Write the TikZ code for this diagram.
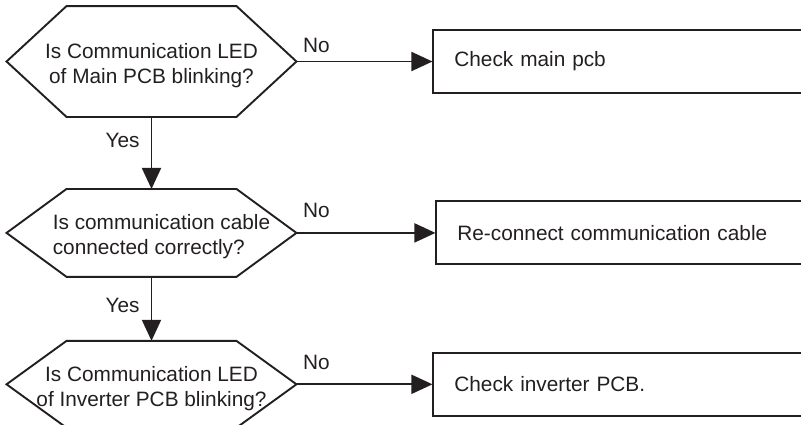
\documentclass[tikz,border=0pt]{standalone}
\usepackage{fontspec}
\setmainfont{Liberation Sans}
\usetikzlibrary{positioning,arrows.meta}
\definecolor{Ink}{RGB}{35,31,32}

\begin{document}
\begin{tikzpicture}[color=Ink,line width=.95pt,
 font=\fontsize{10.4}{12.5}\selectfont,
 hexa/.style={inner sep=0pt,minimum width=144pt},
 qtext/.style={inner sep=0pt,align=center,yshift=-2pt},
 box/.style={draw,inner xsep=10.5pt,inner ysep=0pt,minimum height=31.5pt,text width=170pt,align=left},
 a/.style={-{Triangle[length=10.5pt,width=9.5pt]}},
 lab/.style={inner sep=0pt}]
\useasboundingbox (0,0) rectangle (400.5pt,-212pt);
\clip (0,0) rectangle (400.5pt,-212pt);
% question frames
\node[hexa,minimum height=54.5pt] (q1) at (75.75pt,-30.75pt) {};
\node[hexa,minimum height=43pt,below=36pt of q1] (q2) {};
\node[hexa,minimum height=42.5pt,below=32pt of q2] (q3) {};
\foreach \q in {q1,q2,q3}
 \draw (\q.west) -- ([xshift=30pt]\q.north west) -- ([xshift=-30pt]\q.north east) -- (\q.east)
  -- ([xshift=-30pt]\q.south east) -- ([xshift=30pt]\q.south west) -- cycle;
\node[qtext] (t1) at (q1) {Is Communication LED\\of Main PCB blinking?};
\node[qtext,align=left,xshift=5pt] (t2) at (q2) {Is communication cable\\connected correctly?};
\node[qtext] (t3) at (q3) {Is Communication LED\\of Inverter PCB blinking?};
% actions
\node[box,right=68pt of q1] (a1) {Check main pcb};
\node[box,right=69.5pt of q2] (a2) {Re-connect communication cable};
\node[box,right=68pt of q3] (a3) {Check inverter PCB.};
\draw[a] (q1.east) -- (a1.west) node[lab,pos=0,anchor=south west,xshift=2.8pt,yshift=4pt] {No};
\draw[a] (q2.east) -- (a2.west) node[lab,pos=0,anchor=south west,xshift=2.8pt,yshift=7pt] {No};
\draw[a] (q3.east) -- (a3.west) node[lab,pos=0,anchor=south west,xshift=2.8pt,yshift=7pt] {No};
\draw[a] (q1.south) -- (q2.north) node[lab,pos=0,anchor=east,xshift=-5.5pt,yshift=-11.5pt] {Yes};
\draw[a] (q2.south) -- (q3.north) node[lab,pos=0,anchor=east,xshift=-5.5pt,yshift=-14.5pt] {Yes};
\end{tikzpicture}
\end{document}
